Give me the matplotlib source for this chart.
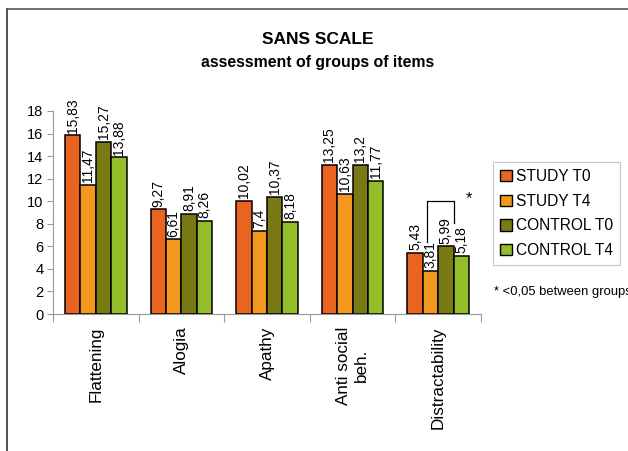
import numpy as np
import matplotlib
matplotlib.use("Agg")
import matplotlib.pyplot as plt
from matplotlib.patches import Patch
from matplotlib.lines import Line2D

plt.rcParams['font.family'] = ['Liberation Sans', 'DejaVu Sans']

### DATOS
### ------------------

categories = ["Flattening", "Alogia", "Apathy", "Anti social\nbeh.", "Distractability"]
series_names = ["STUDY T0", "STUDY T4", "CONTROL T0", "CONTROL T4"]
study_t0 = [15.83, 9.27, 10.02, 13.25, 5.43]
study_t4 = [11.47, 6.61, 7.4, 10.63, 3.81]
control_t0 = [15.27, 8.91, 10.37, 13.2, 5.99]
control_t4 = [13.88, 8.26, 8.18, 11.77, 5.18]
y_ticks = list(range(0, 19, 2))
colors = ["#E9651F", "#F2981F", "#7A7A15", "#94BE29"]

series = [study_t0, study_t4, control_t0, control_t4]

### FIGURA
### ------------------

fig = plt.figure(figsize=(6.28, 4.51), dpi=100)
ax = fig.add_axes([53 / 628, 1 - 314 / 451, (481 - 53) / 628, (314 - 111) / 451])

x = np.arange(len(categories))
width = 0.18
offsets = (np.arange(len(series)) - 1.5) * width

for vals, off, col in zip(series, offsets, colors):
    bars = ax.bar(x + off, vals, width, color=col, edgecolor="black", linewidth=1.1, zorder=3)
    for b, v in zip(bars, vals):
        label = ("%g" % v).replace(".", ",")
        ax.text(b.get_x() + b.get_width() / 2, v + 0.25, label, rotation=90,
                ha="center", va="bottom", fontsize=10)

ax.set_xlim(-0.5, len(categories) - 0.5)
ax.set_ylim(0, 18)
ax.set_yticks(y_ticks)
ax.tick_params(axis="y", labelsize=10.5, length=4, color="#999999", width=0.8, pad=3)

# etiquetas en el centro, marcas entre grupos
ax.set_xticks(x)
ax.set_xticklabels(categories, rotation=90, fontsize=12.3, va="top", ha="center",
                   multialignment="center")
ax.tick_params(axis="x", length=0, pad=9)
ax.set_xticks(np.arange(-0.5, len(categories)), minor=True)
ax.tick_params(axis="x", which="minor", length=6, color="#999999", width=0.8)

for side in ["top", "right"]:
    ax.spines[side].set_visible(False)
for side in ["left", "bottom"]:
    ax.spines[side].set_color("#999999")
    ax.spines[side].set_linewidth(0.8)

# corchete de significancia en Distractability
g = len(categories) - 1
ax.plot([g - 0.13, g - 0.13, g + 0.19, g + 0.19], [6.4, 10.0, 10.0, 8.05],
        color="black", linewidth=0.9, zorder=4)
ax.text(g + 0.36, 9.6, "*", ha="center", va="bottom", fontsize=12)

# leyenda
handles = [Patch(facecolor=c, edgecolor="black", linewidth=1.0) for c in colors]
leg = fig.legend(handles, series_names, loc="upper left",
                 bbox_to_anchor=(493 / 628, 1 - 162 / 451), borderaxespad=0,
                 fontsize=11.2, handlelength=0.75, handleheight=0.75,
                 handletextpad=0.3, labelspacing=0.62, borderpad=0.45,
                 fancybox=False, framealpha=1)
leg.get_frame().set_edgecolor("#c8c8c8")
leg.get_frame().set_linewidth(0.8)

fig.text(494 / 628, 1 - 292 / 451, "* <0,05 between groups", fontsize=9.4,
         ha="left", va="center")

# titulos
fig.text(318 / 628, 1 - 40 / 451, "SANS SCALE", fontsize=12.5, fontweight="bold",
         ha="center", va="center")
fig.text(318 / 628, 1 - 62 / 451, "assessment of groups of items", fontsize=11.4,
         fontweight="bold", ha="center", va="center")

# marco exterior
fig.add_artist(Line2D([7 / 628, 7 / 628], [0, 1 - 9 / 451], color="#333333",
                      linewidth=1.2, transform=fig.transFigure))
fig.add_artist(Line2D([7 / 628, 1], [1 - 9 / 451, 1 - 9 / 451], color="#555555",
                      linewidth=1.2, transform=fig.transFigure))

fig.savefig("out.png", dpi=100)
